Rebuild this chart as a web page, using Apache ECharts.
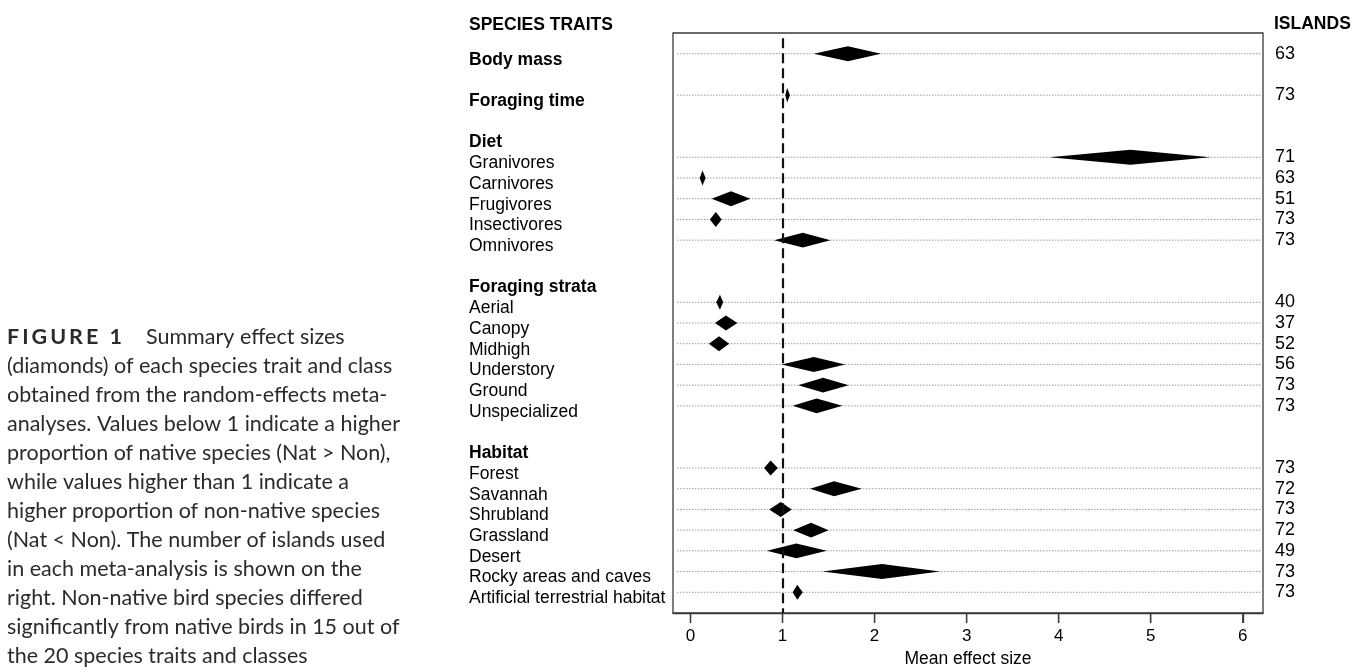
<!DOCTYPE html>
<html>
<head>
<meta charset="utf-8">
<script src="https://cdn.jsdelivr.net/npm/echarts@6/dist/echarts.min.js"></script>
<style>
html,body{margin:0;padding:0;background:#fff;}
#chart{width:1363px;height:667px;}
</style>
</head>
<body>
<div id="chart"></div>
<script>
// ---- data ----
const rowLabels = ['Body mass','','Foraging time','','Diet','Granivores','Carnivores','Frugivores','Insectivores','Omnivores','','Foraging strata','Aerial','Canopy','Midhigh','Understory','Ground','Unspecialized','','Habitat','Forest','Savannah','Shrubland','Grassland','Desert','Rocky areas and caves','Artificial terrestrial habitat'];
const boldLabels = ['Body mass','Foraging time','Diet','Foraging strata','Habitat'];
const estimate = [1.71, null, 1.05, null, null, 4.78, 0.13, 0.44, 0.275, 1.22, null, null, 0.32, 0.385, 0.31, 1.34, 1.44, 1.37, null, null, 0.87, 1.56, 0.98, 1.31, 1.15, 2.08, 1.16];
const lowerCI  = [1.34, null, 1.03, null, null, 3.90, 0.10, 0.23, 0.21, 0.91, null, null, 0.28, 0.265, 0.20, 0.99, 1.17, 1.11, null, null, 0.80, 1.30, 0.855, 1.115, 0.83, 1.435, 1.11];
const upperCI  = [2.07, null, 1.08, null, null, 5.645, 0.165, 0.65, 0.34, 1.52, null, null, 0.355, 0.51, 0.42, 1.68, 1.72, 1.65, null, null, 0.95, 1.86, 1.10, 1.50, 1.48, 2.71, 1.22];
const islands  = [63, null, 73, null, null, 71, 63, 51, 73, 73, null, null, 40, 37, 52, 56, 73, 73, null, null, 73, 72, 73, 72, 49, 73, 73];
const xTicks = [0, 1, 2, 3, 4, 5, 6];
const refValue = 1;
const captionTitle = 'FIGURE 1';
const captionLines = [
  'Summary effect sizes',
  '(diamonds) of each species trait and class',
  'obtained from the random-effects meta-',
  'analyses. Values below 1 indicate a higher',
  'proportion of native species (Nat > Non),',
  'while values higher than 1 indicate a',
  'higher proportion of non-native species',
  '(Nat < Non). The number of islands used',
  'in each meta-analysis is shown on the',
  'right. Non-native bird species differed',
  'significantly from native birds in 15 out of',
  'the 20 species traits and classes'
];

// ---- build ----
const FONT = "'Liberation Sans', Arial, Helvetica, sans-serif";
const CAPFONT = "Lato, 'Open Sans', sans-serif";
const dataRows = rowLabels.map((_, i) => i).filter(i => estimate[i] != null);
const diamondData = dataRows.map(i => [estimate[i], lowerCI[i], upperCI[i], i]);
const Y_MIN = -1, Y_MAX = rowLabels.length;

const chart = echarts.init(document.getElementById('chart'), null, {renderer: 'canvas'});

// letter-spaced bold title via rich fragments
const titleRich = captionTitle.split('').map(c => '{s|' + c + '}').join('');

const graphics = [
  {type: 'text', left: 469, top: 16, style: {text: 'SPECIES TRAITS', font: 'bold 17.5px ' + FONT, fill: '#000'}},
  {type: 'text', left: 1274, top: 15, style: {text: 'ISLANDS', font: 'bold 17.5px ' + FONT, fill: '#000'}},
  {type: 'text', left: 7, top: 326, style: {text: titleRich, fill: '#2b2b2b',
    rich: {s: {fontSize: 21.5, fontWeight: 'bold', fontFamily: CAPFONT, color: '#2b2b2b', padding: [0, 3, 0, 0]}}}}
];
captionLines.forEach((t, k) => {
  graphics.push({type: 'text', left: k === 0 ? 146 : 7, top: 326 + k * 29, style: {text: t, font: '21.5px ' + CAPFONT, fill: '#2b2b2b'}});
});

const option = {
  animation: false,
  backgroundColor: '#fff',
  grid: {left: 673, top: 33, right: 100, bottom: 54, outerBoundsMode: 'none', containLabel: false,
    show: true, borderColor: '#3a3a3a', borderWidth: 1.3, backgroundColor: 'transparent'},
  xAxis: {
    type: 'value', min: -0.19, max: 6.22, position: 'bottom',
    axisLine: {show: true, onZero: false, lineStyle: {color: '#3a3a3a', width: 1.3}},
    splitLine: {show: false},
    axisTick: {show: true, inside: false, length: 10, customValues: xTicks, lineStyle: {color: '#3a3a3a', width: 1.3}},
    axisLabel: {customValues: xTicks, margin: 15, fontSize: 17, fontFamily: FONT, color: '#000'},
    name: 'Mean effect size', nameLocation: 'middle', nameGap: 36,
    nameTextStyle: {fontSize: 17.5, fontFamily: FONT, color: '#000'}
  },
  yAxis: [
    {
      type: 'value', min: Y_MIN, max: Y_MAX, interval: 1, inverse: true, position: 'left',
      axisLine: {show: false, onZero: false}, axisTick: {show: false}, splitLine: {show: false},
      axisLabel: {
        align: 'left', margin: 204, padding: [12, 0, 0, 0],
        formatter: v => {
          const s = rowLabels[v];
          if (!s) return '';
          return boldLabels.includes(s) ? '{b|' + s + '}' : '{n|' + s + '}';
        },
        rich: {
          b: {fontSize: 17.5, fontWeight: 'bold', fontFamily: FONT, color: '#000'},
          n: {fontSize: 17.5, fontFamily: FONT, color: '#000'}
        }
      }
    },
    {
      type: 'value', min: Y_MIN, max: Y_MAX, interval: 1, inverse: true, position: 'right',
      axisLine: {show: false, onZero: false}, axisTick: {show: false}, splitLine: {show: false},
      axisLabel: {
        align: 'left', margin: 12, fontSize: 18, fontFamily: FONT, color: '#000',
        formatter: v => (islands[v] == null ? '' : String(islands[v]))
      }
    }
  ],
  series: [
    {
      // dotted guide lines for each trait row
      type: 'custom', z: 1, silent: true,
      data: dataRows.map(i => [i]),
      encode: {y: 0},
      renderItem: (params, api) => {
        const y = api.coord([0, api.value(0)])[1];
        const cs = params.coordSys;
        return {type: 'line', shape: {x1: cs.x + 4, y1: y, x2: cs.x + cs.width - 2, y2: y},
          style: {stroke: '#9a9a9a', lineWidth: 1, lineDash: [1.5, 1.5]}};
      }
    },
    {
      // x-axis tick marks below the box
      type: 'custom', z: 1, silent: true, clip: false,
      data: xTicks.map(v => [v]),
      encode: {x: 0},
      renderItem: (params, api) => {
        const cs = params.coordSys;
        const x = api.coord([api.value(0), Y_MAX])[0];
        const yb = cs.y + cs.height;
        return {type: 'line', shape: {x1: x, y1: yb, x2: x, y2: yb + 10},
          style: {stroke: '#3a3a3a', lineWidth: 1.3}};
      }
    },
    {
      type: 'line', z: 2, data: [], silent: true,
      markLine: {
        symbol: 'none', silent: true, animation: false,
        label: {show: false},
        lineStyle: {type: [10, 5], width: 2.2, color: '#111'},
        data: [[{coord: [refValue, -0.75]}, {coord: [refValue, Y_MAX]}]]
      }
    },
    {
      type: 'custom', z: 3, silent: true,
      data: diamondData,
      encode: {x: [0, 1, 2], y: 3},
      renderItem: (params, api) => {
        const e = api.value(0), l = api.value(1), h = api.value(2), r = api.value(3);
        const hh = 0.36;
        return {type: 'polygon', shape: {points: [
          api.coord([l, r]), api.coord([e, r - hh]), api.coord([h, r]), api.coord([e, r + hh])
        ]}, style: {fill: '#000'}};
      }
    }
  ],
  graphic: graphics
};
chart.setOption(option);
</script>
</body>
</html>
